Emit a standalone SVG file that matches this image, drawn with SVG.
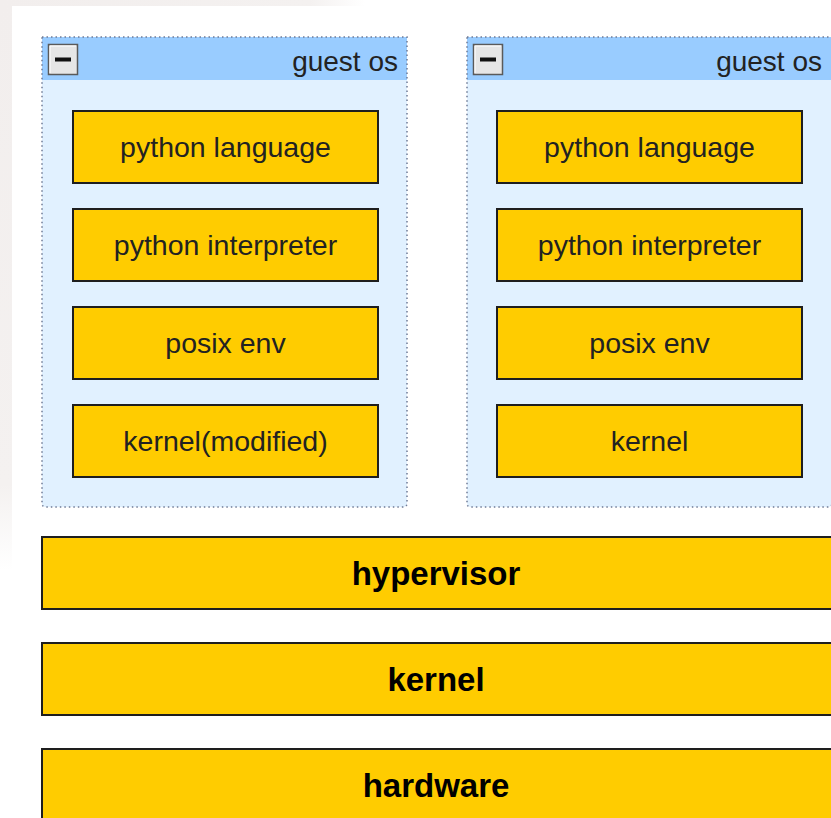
<svg xmlns="http://www.w3.org/2000/svg" width="831" height="818" viewBox="0 0 831 818">
  <defs>
    <linearGradient id="leftFade" x1="0" y1="0" x2="0" y2="1">
      <stop offset="0" stop-color="#f2eeed"/>
      <stop offset="0.85" stop-color="#f4f1f0"/>
      <stop offset="1" stop-color="#ffffff"/>
    </linearGradient>
    <linearGradient id="topFade" x1="0" y1="0" x2="1" y2="0">
      <stop offset="0" stop-color="#f2eeed"/>
      <stop offset="0.85" stop-color="#f4f1f0"/>
      <stop offset="1" stop-color="#ffffff"/>
    </linearGradient>
  </defs>
  <style>
    .hdr { fill: #99ccff; }
    .body { fill: #e1f1ff; }
    .border { fill: none; stroke: #6f7b96; stroke-width: 1.5; stroke-dasharray: 1.5 3; }
    .box { fill: #ffcc00; stroke: #1e1e1e; stroke-width: 2; }
    .lbl { font-family: "Liberation Sans", Arial, sans-serif; font-size: 28.5px; fill: #222222; text-anchor: middle; }
    .big { font-family: "Liberation Sans", Arial, sans-serif; font-size: 33px; font-weight: bold; fill: #000; text-anchor: middle; }
    .title { font-family: "Liberation Sans", Arial, sans-serif; font-size: 28px; fill: #222; text-anchor: end; }
    .btn { fill: #e6e6e6; stroke: #5a5a5a; stroke-width: 1.5; }
    .btnhi { fill: none; stroke: #ffffff; stroke-width: 1; }
  </style>

  <rect x="0" y="0" width="831" height="818" fill="#ffffff"/>
  <rect x="0" y="0" width="12" height="570" fill="url(#leftFade)"/>
  <rect x="0" y="0" width="365" height="6" fill="url(#topFade)"/>

  <g id="guest-os-1">
    <path class="body" d="M42,79 H407 V503 Q407,507 403,507 H46 Q42,507 42,503 Z"/>
    <rect class="hdr" x="42" y="37" width="365" height="43"/>
    <path class="border" d="M42,37 H407 V503 Q407,507 403,507 H46 Q42,507 42,503 Z"/>
    <g id="collapse-1">
      <rect class="btn" x="48.5" y="44.5" width="29" height="30"/>
      <path class="btnhi" d="M50,73 V46 H76"/>
      <rect x="55" y="57.5" width="16" height="4" fill="#111"/>
    </g>
    <text class="title" x="398" y="71">guest os</text>
  </g>

  <g id="guest-os-2">
    <path class="body" d="M467,79 H832 V503 Q832,507 828,507 H471 Q467,507 467,503 Z"/>
    <rect class="hdr" x="467" y="37" width="365" height="43"/>
    <path class="border" d="M467,37 H832 V503 Q832,507 828,507 H471 Q467,507 467,503 Z"/>
    <g id="collapse-2">
      <rect class="btn" x="473.5" y="44.5" width="29" height="30"/>
      <path class="btnhi" d="M475,73 V46 H501"/>
      <rect x="480" y="57.5" width="16" height="4" fill="#111"/>
    </g>
    <text class="title" x="822" y="71">guest os</text>
  </g>

  <g id="python-language-1"><rect class="box" x="73" y="111" width="305" height="72"/><text class="lbl" x="225.5" y="157">python language</text></g>
  <g id="python-interpreter-1"><rect class="box" x="73" y="209" width="305" height="72"/><text class="lbl" x="225.5" y="255">python interpreter</text></g>
  <g id="posix-env-1"><rect class="box" x="73" y="307" width="305" height="72"/><text class="lbl" x="225.5" y="353">posix env</text></g>
  <g id="kernel-modified"><rect class="box" x="73" y="405" width="305" height="72"/><text class="lbl" x="225.5" y="451">kernel(modified)</text></g>

  <g id="python-language-2"><rect class="box" x="497" y="111" width="305" height="72"/><text class="lbl" x="649.5" y="157">python language</text></g>
  <g id="python-interpreter-2"><rect class="box" x="497" y="209" width="305" height="72"/><text class="lbl" x="649.5" y="255">python interpreter</text></g>
  <g id="posix-env-2"><rect class="box" x="497" y="307" width="305" height="72"/><text class="lbl" x="649.5" y="353">posix env</text></g>
  <g id="kernel-guest-2"><rect class="box" x="497" y="405" width="305" height="72"/><text class="lbl" x="649.5" y="451">kernel</text></g>

  <g id="hypervisor"><rect class="box" x="42" y="537" width="800" height="72"/><text class="big" x="436" y="585">hypervisor</text></g>
  <g id="kernel-host"><rect class="box" x="42" y="643" width="800" height="72"/><text class="big" x="436" y="691">kernel</text></g>
  <g id="hardware"><rect class="box" x="42" y="749" width="800" height="80"/><text class="big" x="436" y="797">hardware</text></g>

  <g id="connectors"></g>
</svg>
